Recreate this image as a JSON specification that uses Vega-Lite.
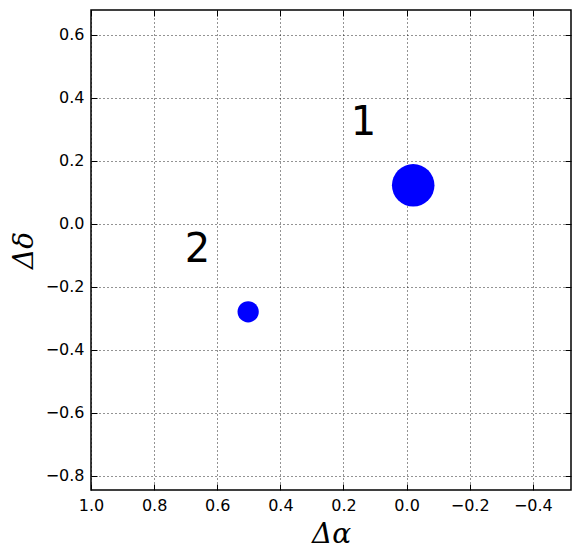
{
  "$schema": "https://vega.github.io/schema/vega-lite/v6.json",
  "width": 480,
  "height": 480,
  "autosize": "none",
  "padding": {"left": 91, "top": 10, "right": 9, "bottom": 68},
  "background": "white",
  "config": {
    "view": {"stroke": "black", "strokeWidth": 1.5},
    "axis": {
      "labelFont": "DejaVu Sans",
      "labelFontSize": 16,
      "labelColor": "black",
      "labelPadding": 13,
      "labelFlush": false,
      "tickColor": "black",
      "tickSize": -6,
      "tickWidth": 1,
      "domain": false,
      "titleFont": "DejaVu Serif",
      "titleFontSize": 28,
      "titleFontWeight": "normal",
      "titleFontStyle": "italic",
      "titleColor": "black",
      "gridColor": "black",
      "gridDash": [1, 3],
      "gridOpacity": 0.85,
      "gridWidth": 1
    }
  },
  "data": {
    "values": [
      {"source": "1", "dra": -0.021, "ddec": 0.122, "flux": 4, "label_ra": 0.137, "label_dec": 0.32},
      {"source": "2", "dra": 0.502, "ddec": -0.28, "flux": 1, "label_ra": 0.663, "label_dec": -0.084}
    ]
  },
  "layer": [
    {
      "mark": {"type": "circle", "color": "blue", "opacity": 1},
      "encoding": {
        "x": {
          "field": "dra", "type": "quantitative",
          "scale": {"domain": [1.0, -0.521], "nice": false, "zero": false},
          "axis": {"orient": "bottom", "values": [1.0, 0.8, 0.6, 0.4, 0.2, 0.0, -0.2, -0.4], "format": ".1f", "title": "Δα", "titleY": 52, "titleBaseline": "alphabetic", "grid": true}
        },
        "y": {
          "field": "ddec", "type": "quantitative",
          "scale": {"domain": [-0.846, 0.679], "nice": false, "zero": false},
          "axis": {"orient": "left", "values": [0.6, 0.4, 0.2, 0.0, -0.2, -0.4, -0.6, -0.8], "format": ".1f", "title": "Δδ", "titleX": -59, "titleY": 240, "titleAngle": 270, "titleBaseline": "alphabetic", "grid": true}
        },
        "size": {"field": "flux", "type": "quantitative", "scale": {"domain": [0, 4], "range": [0, 1810]}, "legend": null}
      }
    },
    {
      "mark": {"type": "text", "font": "DejaVu Sans", "fontSize": 40, "color": "black", "align": "center", "baseline": "middle"},
      "encoding": {
        "x": {
          "field": "label_ra", "type": "quantitative",
          "scale": {"domain": [1.0, -0.521], "nice": false, "zero": false},
          "axis": {"orient": "top", "values": [1.0, 0.8, 0.6, 0.4, 0.2, 0.0, -0.2, -0.4], "labels": false, "title": null, "grid": false}
        },
        "y": {
          "field": "label_dec", "type": "quantitative",
          "scale": {"domain": [-0.846, 0.679], "nice": false, "zero": false},
          "axis": {"orient": "right", "values": [0.6, 0.4, 0.2, 0.0, -0.2, -0.4, -0.6, -0.8], "labels": false, "title": null, "grid": false}
        },
        "text": {"field": "source"}
      }
    }
  ],
  "resolve": {"axis": {"x": "independent", "y": "independent"}}
}
